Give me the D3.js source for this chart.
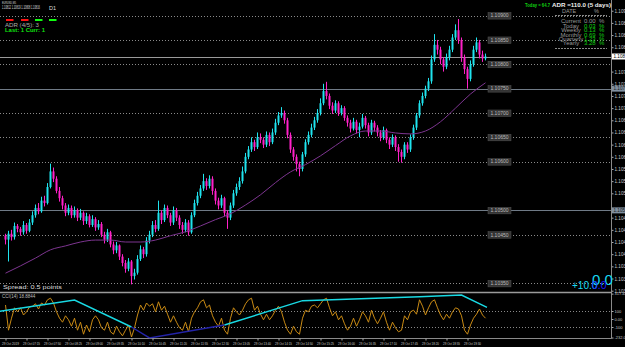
<!DOCTYPE html>
<html>
<head>
<meta charset="utf-8">
<title>EURUSD,M5</title>
<script src="https://d3js.org/d3.v7.min.js"></script>
<style>
  body { margin: 0; background: #000; }
  text { font-family: "Liberation Sans", Arial, sans-serif; }
</style>
</head>
<body>
<div id="chart"></div>
<script>
// EURUSD M5 bars, oldest first (open = previous close)
const firstOpen = 1.10448;
const close = [
  1.10440,1.10452,1.10445,1.10468,1.10462,1.10455,1.10470,1.10458,1.10475,1.10490,
  1.10505,1.10498,1.10520,1.10515,1.10548,1.10580,1.10565,1.10540,1.10525,1.10510,
  1.10495,1.10505,1.10490,1.10500,1.10485,1.10495,1.10478,1.10488,1.10470,1.10482,
  1.10465,1.10472,1.10450,1.10440,1.10455,1.10430,1.10418,1.10428,1.10405,1.10392,
  1.10380,1.10395,1.10365,1.10372,1.10400,1.10420,1.10410,1.10438,1.10450,1.10470,
  1.10462,1.10495,1.10480,1.10505,1.10490,1.10475,1.10500,1.10485,1.10470,1.10460,
  1.10475,1.10455,1.10490,1.10515,1.10530,1.10545,1.10560,1.10550,1.10565,1.10540,
  1.10520,1.10510,1.10525,1.10495,1.10485,1.10510,1.10535,1.10548,1.10560,1.10580,
  1.10610,1.10625,1.10640,1.10630,1.10650,1.10645,1.10635,1.10655,1.10640,1.10660,
  1.10680,1.10695,1.10700,1.10685,1.10655,1.10625,1.10610,1.10595,1.10585,1.10615,
  1.10640,1.10655,1.10670,1.10685,1.10700,1.10720,1.10745,1.10735,1.10715,1.10705,
  1.10720,1.10700,1.10710,1.10690,1.10680,1.10668,1.10682,1.10665,1.10672,1.10690,
  1.10675,1.10660,1.10680,1.10670,1.10660,1.10650,1.10665,1.10645,1.10635,1.10650,
  1.10630,1.10620,1.10610,1.10635,1.10625,1.10650,1.10670,1.10695,1.10720,1.10735,
  1.10750,1.10765,1.10810,1.10840,1.10830,1.10810,1.10795,1.10815,1.10830,1.10855,
  1.10870,1.10850,1.10815,1.10790,1.10770,1.10800,1.10830,1.10845,1.10820,1.10812,
  1.10816
];
const high = [
  1.10452,1.10458,1.10460,1.10475,1.10472,1.10466,1.10478,1.10474,1.10482,1.10498,
  1.10512,1.10515,1.10528,1.10530,1.10556,1.10596,1.10588,1.10570,1.10548,1.10530,
  1.10515,1.10512,1.10510,1.10508,1.10504,1.10503,1.10498,1.10495,1.10492,1.10490,
  1.10486,1.10480,1.10476,1.10456,1.10462,1.10458,1.10436,1.10435,1.10430,1.10410,
  1.10398,1.10402,1.10398,1.10380,1.10408,1.10428,1.10425,1.10445,1.10458,1.10478,
  1.10480,1.10520,1.10500,1.10512,1.10510,1.10495,1.10508,1.10505,1.10490,1.10476,
  1.10482,1.10480,1.10496,1.10522,1.10538,1.10552,1.10575,1.10566,1.10572,1.10570,
  1.10545,1.10526,1.10532,1.10528,1.10500,1.10516,1.10542,1.10555,1.10568,1.10590,
  1.10618,1.10632,1.10650,1.10645,1.10660,1.10658,1.10650,1.10662,1.10660,1.10668,
  1.10688,1.10702,1.10712,1.10705,1.10690,1.10660,1.10630,1.10615,1.10600,1.10620,
  1.10646,1.10662,1.10678,1.10692,1.10708,1.10730,1.10760,1.10764,1.10740,1.10722,
  1.10726,1.10724,1.10716,1.10714,1.10695,1.10686,1.10690,1.10686,1.10680,1.10698,
  1.10694,1.10680,1.10686,1.10684,1.10675,1.10665,1.10672,1.10668,1.10650,1.10656,
  1.10654,1.10636,1.10625,1.10640,1.10640,1.10656,1.10676,1.10700,1.10726,1.10742,
  1.10756,1.10772,1.10818,1.10862,1.10850,1.10836,1.10815,1.10822,1.10838,1.10862,
  1.10882,1.10893,1.10855,1.10820,1.10795,1.10808,1.10838,1.10855,1.10850,1.10828,
  1.10822
];
const low = [
  1.10430,1.10395,1.10438,1.10440,1.10455,1.10448,1.10450,1.10452,1.10455,1.10470,
  1.10485,1.10492,1.10495,1.10508,1.10512,1.10545,1.10558,1.10535,1.10518,1.10502,
  1.10488,1.10490,1.10484,1.10485,1.10478,1.10480,1.10470,1.10472,1.10465,1.10466,
  1.10458,1.10460,1.10445,1.10432,1.10435,1.10424,1.10410,1.10412,1.10398,1.10385,
  1.10372,1.10375,1.10348,1.10358,1.10368,1.10396,1.10402,1.10405,1.10432,1.10445,
  1.10455,1.10458,1.10472,1.10476,1.10484,1.10468,1.10470,1.10478,1.10462,1.10452,
  1.10455,1.10448,1.10452,1.10486,1.10510,1.10525,1.10540,1.10542,1.10545,1.10532,
  1.10512,1.10502,1.10505,1.10488,1.10462,1.10480,1.10505,1.10530,1.10542,1.10555,
  1.10576,1.10605,1.10620,1.10622,1.10626,1.10638,1.10628,1.10630,1.10632,1.10636,
  1.10655,1.10675,1.10690,1.10678,1.10648,1.10618,1.10602,1.10580,1.10570,1.10580,
  1.10610,1.10635,1.10650,1.10665,1.10680,1.10695,1.10716,1.10728,1.10708,1.10698,
  1.10700,1.10694,1.10695,1.10684,1.10672,1.10660,1.10664,1.10658,1.10650,1.10668,
  1.10668,1.10652,1.10655,1.10662,1.10652,1.10642,1.10645,1.10638,1.10626,1.10630,
  1.10622,1.10600,1.10598,1.10605,1.10618,1.10620,1.10645,1.10665,1.10690,1.10715,
  1.10730,1.10745,1.10760,1.10805,1.10820,1.10800,1.10785,1.10790,1.10808,1.10825,
  1.10850,1.10842,1.10805,1.10780,1.10750,1.10765,1.10795,1.10825,1.10812,1.10805,
  1.10808
];
// moving average, read every 5th bar
const maValues = [
  1.10371,1.10386,1.10402,1.10419,1.10427,1.10435,1.10439,1.10439,1.10435,1.10435,
  1.10439,1.10448,1.10456,1.10468,1.10481,1.10493,1.10511,1.10532,1.10557,1.10579,
  1.10594,1.10612,1.10633,1.10653,1.10663,1.10663,1.10659,1.10657,1.10663,1.10682,
  1.10710,1.10739,1.10762
];
// CCI(14), one value per bar
const cci = [
  175,-140,10,140,90,140,50,90,150,160,
  190,125,200,175,240,260,200,90,10,-40,
  40,-10,-90,10,-140,-40,-190,-75,-160,-10,
  40,-10,-110,-140,-40,-160,-190,-90,-160,-210,
  -140,-75,-225,-110,50,175,110,200,160,190,
  90,215,110,160,60,-40,40,-40,-110,-140,
  -40,-160,10,90,140,215,240,140,175,40,
  -40,-90,10,-140,-190,10,140,90,50,110,
  190,240,260,110,160,60,-10,60,-10,40,
  110,160,90,-40,-140,-190,-90,-160,-190,10,
  110,90,160,175,140,190,240,260,140,40,
  90,-10,40,-60,-140,-90,10,-90,-10,90,
  40,-40,110,10,-60,10,90,-40,-140,-40,
  -110,-160,-140,40,-10,90,110,60,240,160,
  50,140,215,240,140,50,-10,60,10,90,
  140,125,40,-140,-190,-75,10,60,125,50,
  10
];
// zigzag on CCI: [bar, value]
const zigCyanA = [[-2, 95], [23, 237], [42, -100]];
const zigNavy = [[42, -100], [48, -237], [73, -75]];
const zigCyanB = [[73, -75], [99, 229], [138, 279], [152, 300], [160.5, 146]];

const dottedLevels = [1.109, 1.1085, 1.108, 1.107, 1.1065, 1.106, 1.1045, 1.1035];
const solidLevels = [1.1075, 1.105];
const bid = 1.10816;

const priceTicks = [1.10910,1.10885,1.10860,1.10835,1.10785,1.10760,1.10735,1.10710,
  1.10685,1.10660,1.10635,1.10610,1.10585,1.10560,1.10535,1.10485,1.10460,1.10435,
  1.10410,1.10385,1.10360,1.10335];
const cciTicks = [317, 100, 0, -100, -232];
const cciTickLabels = ["317.4471", "100", "0.00", "-100", "-232.0591"];

const timeBars = [0,7,14,21,28,35,42,49,56,63,70,77,84,91,98,105,112,119,126,133,140,147,154];
const timeLabels = ["29 Oct 2019","29 Oct 07:15","29 Oct 07:50","29 Oct 08:25","29 Oct 09:00",
  "29 Oct 09:35","29 Oct 10:10","29 Oct 10:45","29 Oct 11:20","29 Oct 11:55","29 Oct 12:30",
  "29 Oct 13:05","29 Oct 13:40","29 Oct 14:15","29 Oct 14:50","29 Oct 15:25","29 Oct 16:00",
  "29 Oct 16:35","29 Oct 17:10","29 Oct 17:45","29 Oct 18:20","29 Oct 18:55","29 Oct 19:30"];

const statNames = ["Current", "Today", "Weekly", "Monthly", "Quarterly", "Yearly"];
const statValues = ["0.00", "0.03", "0.13", "0.69", "1.23", "3.28"];

// layout
const W = 625, H = 347;
const plotRight = 611.5;
const mainBottom = 292.5, paneBottom = 338.5;

const x = d3.scaleLinear().domain([0, 160]).range([5.5, 485.5]);
const y = d3.scaleLinear().domain([1.1035, 1.109]).range([283.4, 15.6]);
const yc = d3.scaleLinear().domain([-100, 100]).range([327, 311]);
const px = v => Math.round(v) + 0.5;

const svg = d3.select("#chart").append("svg")
    .attr("width", W).attr("height", H)
    .style("background", "#000").style("display", "block");

svg.append("clipPath").attr("id", "mainClip").append("rect")
    .attr("x", 0).attr("y", 0).attr("width", plotRight).attr("height", mainBottom - 1);
svg.append("clipPath").attr("id", "paneClip").append("rect")
    .attr("x", 0).attr("y", mainBottom + 1).attr("width", plotRight).attr("height", paneBottom - mainBottom - 1);

const main = svg.append("g").attr("clip-path", "url(#mainClip)");

// horizontal levels
main.selectAll("line.dot").data(dottedLevels).join("line")
    .attr("class", "dot")
    .attr("x1", 0).attr("x2", plotRight)
    .attr("y1", d => px(y(d))).attr("y2", d => px(y(d)))
    .attr("stroke", "#8a8a8a").attr("stroke-dasharray", "1,2");
main.selectAll("line.solid").data(solidLevels).join("line")
    .attr("class", "solid")
    .attr("x1", 0).attr("x2", plotRight)
    .attr("y1", d => px(y(d))).attr("y2", d => px(y(d)))
    .attr("stroke", "#6f7a86");
main.append("line")
    .attr("x1", 0).attr("x2", plotRight)
    .attr("y1", px(y(bid))).attr("y2", px(y(bid)))
    .attr("stroke", "#9a9a9a");

// candles
const bars = close.map((c, i) => ({ i, o: i ? close[i - 1] : firstOpen, h: high[i], l: low[i], c }));
const bull = "#1fe3ee", bear = "#ff20c8";
main.selectAll("line.wick").data(bars).join("line")
    .attr("class", "wick")
    .attr("x1", d => x(d.i)).attr("x2", d => x(d.i))
    .attr("y1", d => y(d.h)).attr("y2", d => y(d.l))
    .attr("stroke", d => d.c >= d.o ? bull : bear).attr("stroke-width", 1);
main.selectAll("rect.body").data(bars).join("rect")
    .attr("class", "body")
    .attr("x", d => x(d.i) - 1)
    .attr("width", 2)
    .attr("y", d => y(Math.max(d.o, d.c)))
    .attr("height", d => Math.max(1, Math.abs(y(d.o) - y(d.c))))
    .attr("fill", d => d.c >= d.o ? bull : bear);

// moving average
main.append("path")
    .datum(maValues)
    .attr("d", d3.line().x((d, k) => x(k * 5)).y(d => y(d)).curve(d3.curveMonotoneX))
    .attr("fill", "none").attr("stroke", "#7d3590").attr("stroke-width", 1);

// level tags
const tags = svg.append("g");
[...dottedLevels, ...solidLevels].forEach(p => {
  tags.append("rect").attr("x", 488).attr("y", y(p) - 3).attr("width", 23).attr("height", 6.5)
      .attr("fill", "#333").attr("stroke", "#555").attr("stroke-width", 0.5);
  tags.append("text").attr("x", 499.5).attr("y", y(p) + 1.8)
      .attr("text-anchor", "middle").attr("font-size", 5).attr("fill", "#bbb")
      .text(d3.format(".5f")(p));
});

// price axis
const yAxis = d3.axisRight(y).tickValues(priceTicks).tickFormat(d3.format(".5f"))
    .tickSize(2).tickSizeOuter(0).tickPadding(1);
const ga = svg.append("g").attr("transform", `translate(${plotRight},0)`).call(yAxis);
ga.select(".domain").remove();
ga.selectAll("line").attr("stroke", "#aaa");
ga.selectAll("text").attr("font-size", 4.6).attr("fill", "#c8c8c8").attr("font-family", "Liberation Sans, Arial");

function axisTag(p, bg, fg) {
  svg.append("rect").attr("x", plotRight + 0.5).attr("y", y(p) - 3).attr("width", 14).attr("height", 6)
      .attr("fill", bg);
  svg.append("text").attr("x", plotRight + 2).attr("y", y(p) + 1.8)
      .attr("font-size", 4.6).attr("fill", fg).text(d3.format(".5f")(p));
}
solidLevels.forEach(p => axisTag(p, "#7f8fa0", "#1a1a1a"));
axisTag(bid, "#ffffff", "#000");

// frame lines
svg.append("line").attr("x1", plotRight).attr("x2", plotRight).attr("y1", 0).attr("y2", paneBottom)
    .attr("stroke", "#8a8a8a");
svg.append("line").attr("x1", 0).attr("x2", plotRight).attr("y1", mainBottom).attr("y2", mainBottom)
    .attr("stroke", "#9a9a9a").attr("stroke-width", 1.5);
svg.append("line").attr("x1", 0).attr("x2", plotRight).attr("y1", paneBottom).attr("y2", paneBottom)
    .attr("stroke", "#8a8a8a");

// CCI pane
const pane = svg.append("g").attr("clip-path", "url(#paneClip)");
pane.selectAll("line.lvl").data([100, -100]).join("line")
    .attr("class", "lvl")
    .attr("x1", 0).attr("x2", plotRight)
    .attr("y1", d => px(yc(d))).attr("y2", d => px(yc(d)))
    .attr("stroke", "#888").attr("stroke-dasharray", "1,2");
pane.append("path").datum(cci)
    .attr("d", d3.line().x((d, i) => x(i)).y(d => yc(d)))
    .attr("fill", "none").attr("stroke", "#c98a14").attr("stroke-width", 1);
const zz = d3.line().x(d => x(d[0])).y(d => yc(d[1]));
[[zigCyanA, "#19d9e3"], [zigNavy, "#2323a8"], [zigCyanB, "#19d9e3"]].forEach(([pts, col]) => {
  pane.append("path").attr("d", zz(pts)).attr("fill", "none").attr("stroke", col).attr("stroke-width", 1.4);
});
svg.append("text").attr("x", 2).attr("y", 298).attr("font-size", 4.5).attr("fill", "#bbb")
    .text("CCI(14) 18.8844");

const cAxis = d3.axisRight(yc).tickValues(cciTicks).tickFormat((d, i) => cciTickLabels[i])
    .tickSize(2).tickSizeOuter(0).tickPadding(1);
const gc = svg.append("g").attr("transform", `translate(${plotRight},0)`).call(cAxis);
gc.select(".domain").remove();
gc.selectAll("line").attr("stroke", "#aaa");
gc.selectAll("text").attr("font-size", 4).attr("fill", "#c8c8c8").attr("font-family", "Liberation Sans, Arial");

// time axis
const xAxis = d3.axisBottom(x).tickValues(timeBars).tickFormat((d, i) => timeLabels[i])
    .tickSize(2).tickSizeOuter(0).tickPadding(2);
const gx = svg.append("g").attr("transform", `translate(0,${paneBottom})`).call(xAxis);
gx.select(".domain").remove();
gx.selectAll("line").attr("stroke", "#aaa");
gx.selectAll("text").attr("font-size", 4.2).attr("fill", "#c8c8c8").attr("text-anchor", "start")
    .attr("dx", -4).attr("font-family", "Liberation Sans, Arial")
    .attr("textLength", 17).attr("lengthAdjust", "spacingAndGlyphs");

// top-left info
svg.append("text").attr("x", 2).attr("y", 3.8).attr("font-size", 4).attr("fill", "#ddd")
    .attr("textLength", 14).attr("lengthAdjust", "spacingAndGlyphs").text("EURUSD,M5");
svg.append("text").attr("x", 2).attr("y", 8.8).attr("font-size", 4.5).attr("fill", "#ddd")
    .attr("textLength", 38).attr("lengthAdjust", "spacingAndGlyphs").text("1.10812 1.10819 1.10808 1.10816");
svg.append("text").attr("x", 49).attr("y", 9.5).attr("font-size", 5.5).attr("fill", "#ddd").text("D1");
[[6, "#ff1010"], [21, "#ff1010"], [35, "#10ff10"], [49, "#10ff10"]].forEach(([x0, col]) => {
  svg.append("rect").attr("x", x0).attr("y", 19).attr("width", 7.5).attr("height", 2).attr("fill", col);
});
svg.append("text").attr("x", 5).attr("y", 26.5).attr("font-size", 5).attr("fill", "#aaa")
    .attr("textLength", 34).attr("lengthAdjust", "spacingAndGlyphs").text("ADR (4/5): 3");
svg.append("text").attr("x", 5).attr("y", 31.5).attr("font-size", 5.8).attr("font-weight", "bold")
    .attr("fill", "#10e010").attr("textLength", 40).attr("lengthAdjust", "spacingAndGlyphs")
    .text("Last: 1 Curr: 1");

// top-right ADR + stats
svg.append("text").attr("x", 525).attr("y", 7).attr("font-size", 5.8).attr("font-weight", "bold")
    .attr("fill", "#10d010").attr("textLength", 25).attr("lengthAdjust", "spacingAndGlyphs").text("Today = 64.7");
svg.append("text").attr("x", 552).attr("y", 7).attr("font-size", 5.8).attr("font-weight", "bold")
    .attr("fill", "#eee").attr("textLength", 59).attr("lengthAdjust", "spacingAndGlyphs").text("ADR =110.0 (5 days)");
svg.append("text").attr("x", 562).attr("y", 13).attr("font-size", 5.5).attr("fill", "#999").text("DATE");
svg.append("text").attr("x", 594).attr("y", 13).attr("font-size", 5.5).attr("fill", "#999").text("%");
[15.5, 48.5].forEach(yy => {
  svg.append("line").attr("x1", 555).attr("x2", 607).attr("y1", yy).attr("y2", yy)
      .attr("stroke", "#888").attr("stroke-dasharray", "2,1");
});
statNames.forEach((n, i) => {
  const yy = 23.3 + i * 4.4;
  const col = i === 0 ? "#999" : "#10d010";
  svg.append("text").attr("x", 571).attr("y", yy).attr("text-anchor", "middle")
      .attr("font-size", 6).attr("fill", "#999").text(n);
  svg.append("text").attr("x", 584).attr("y", yy).attr("font-size", 6).attr("fill", col).text(statValues[i]);
  svg.append("text").attr("x", 599).attr("y", yy).attr("font-size", 6).attr("fill", col).text("%");
});

// spread + pip counters
svg.append("text").attr("x", 3).attr("y", 289).attr("font-size", 6)
    .attr("font-family", "DejaVu Sans Mono, monospace").attr("fill", "#ddd")
    .attr("textLength", 59).attr("lengthAdjust", "spacingAndGlyphs").text("Spread: 0.5 points");
svg.append("text").attr("x", 592).attr("y", 285).attr("font-size", 15).attr("fill", "#18d8f0").text("0.0");
svg.append("text").attr("x", 572).attr("y", 289).attr("font-size", 10).attr("fill", "#18d8f0").text("+10.0");
svg.append("text").attr("x", 592).attr("y", 289).attr("font-size", 10.5).attr("fill", "#1a1aff").text("0.0");
</script>
</body>
</html>
